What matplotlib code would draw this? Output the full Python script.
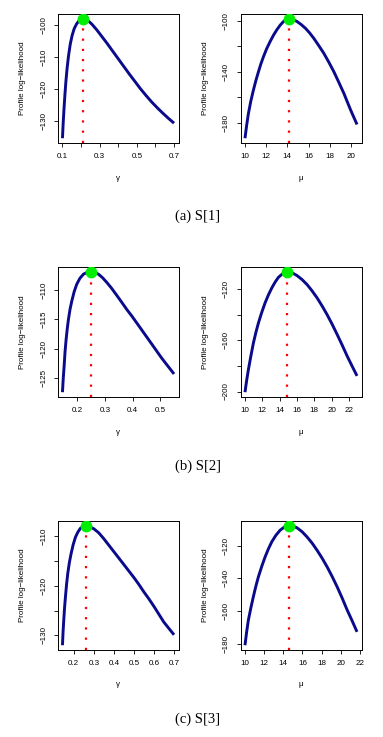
import matplotlib
matplotlib.use("Agg")
import matplotlib.pyplot as plt

# ---------------- data ----------------
# Panel (a) S[1]: gamma profile
g1_x = [0.100, 0.104, 0.108, 0.113, 0.118, 0.125, 0.133, 0.142, 0.152, 0.163,
        0.176, 0.190, 0.208, 0.225, 0.240, 0.260, 0.285, 0.310, 0.339, 0.370,
        0.400, 0.430, 0.460, 0.490, 0.520, 0.550, 0.580, 0.610, 0.640, 0.670, 0.700]
g1_y = [-135.4, -130.5, -126.5, -122.0, -118.0, -113.5, -109.5, -106.0, -103.3,
        -101.2, -99.7, -98.6, -98.1, -98.3, -98.8, -99.9, -101.6, -103.5, -105.7,
        -108.2, -110.6, -113.0, -115.4, -117.7, -120.0, -122.1, -124.1, -125.9,
        -127.6, -129.2, -130.7]
g1_peak = (0.208, -98.1)
# Panel (a) S[1]: mu profile
m1_x = [10.0, 10.15, 10.32, 10.55, 10.79, 11.03, 11.27, 11.50, 11.74, 12.05,
        12.37, 12.68, 13.0, 13.32, 13.64, 13.9, 14.18, 14.5, 14.9, 15.3, 15.7,
        16.1, 16.49, 16.95, 17.44, 17.9, 18.39, 18.85, 19.34, 19.65, 19.97,
        20.27, 20.57]
m1_y = [-192.1, -182.5, -172.9, -163.0, -154.5, -146.8, -140.0, -133.8, -128.2,
        -121.8, -116.3, -111.4, -107.1, -103.4, -100.5, -99.1, -98.4, -98.9,
        -100.5, -102.9, -105.8, -109.5, -113.7, -119.3, -125.5, -132.3, -140.0,
        -148.2, -157.1, -163.5, -170.0, -175.7, -181.3]
m1_peak = (14.18, -98.4)

# Panel (b) S[2]
g2_x = [0.1456, 0.1485, 0.1516, 0.155, 0.1589, 0.163, 0.1673, 0.173, 0.1794,
        0.188, 0.1976, 0.209, 0.2218, 0.235, 0.2496, 0.263, 0.2762, 0.291,
        0.3065, 0.324, 0.3427, 0.361, 0.379, 0.397, 0.4153, 0.4335, 0.4516,
        0.4698, 0.4879, 0.506, 0.5242, 0.5375, 0.5508]
g2_y = [-127.4, -125.0, -123.0, -120.5, -118.4, -116.6, -115.0, -113.3, -111.9,
        -110.3, -109.0, -108.0, -107.3, -107.0, -106.9, -107.0, -107.3, -107.9,
        -108.7, -109.7, -110.9, -112.1, -113.3, -114.4, -115.6, -116.8, -118.0,
        -119.2, -120.4, -121.6, -122.7, -123.5, -124.3]
g2_peak = (0.2496, -106.9)
m2_x = [10.0, 10.19, 10.39, 10.68, 10.97, 11.26, 11.55, 11.93, 12.32, 12.71,
        13.1, 13.48, 13.87, 14.38, 14.88, 15.45, 16.0, 16.58, 17.16, 17.74,
        18.32, 18.9, 19.48, 20.07, 20.65, 21.23, 21.81, 22.37, 22.93]
m2_y = [-200.5, -191.5, -183.1, -172.3, -162.2, -153.9, -146.6, -138.4, -130.9,
        -124.6, -119.2, -114.7, -110.9, -108.0, -106.7, -107.5, -109.6, -112.7,
        -116.6, -121.5, -127.0, -133.3, -140.1, -147.7, -155.7, -164.0, -172.6,
        -180.3, -187.8]
m2_peak = (14.88, -106.7)

# Panel (c) S[3]
g3_x = [0.1435, 0.1465, 0.150, 0.154, 0.1585, 0.164, 0.170, 0.178, 0.1867,
        0.197, 0.2083, 0.220, 0.2332, 0.248, 0.2631, 0.280, 0.2997, 0.324,
        0.3495, 0.3744, 0.3993, 0.4243, 0.4492, 0.4741, 0.499, 0.5239, 0.5488,
        0.5737, 0.5987, 0.6236, 0.6485, 0.674, 0.700]
g3_y = [-132.0, -129.3, -126.9, -124.4, -122.2, -119.7, -117.5, -115.3, -113.5,
        -111.7, -110.2, -109.2, -108.4, -108.0, -107.9, -108.1, -108.5, -109.3,
        -110.5, -111.8, -113.1, -114.4, -115.7, -117.0, -118.3, -119.7, -121.2,
        -122.6, -124.1, -125.7, -127.3, -128.6, -129.9]
g3_peak = (0.2631, -107.9)
m3_x = [10.0, 10.17, 10.35, 10.61, 10.87, 11.13, 11.4, 11.75, 12.1, 12.45,
        12.8, 13.23, 13.67, 14.1, 14.55, 15.0, 15.42, 15.95, 16.47, 17.0,
        17.52, 18.05, 18.57, 19.1, 19.62, 20.15, 20.67, 21.18, 21.69]
m3_y = [-181.0, -173.0, -165.7, -158.2, -151.3, -144.9, -139.0, -132.6, -126.8,
        -121.8, -117.5, -113.5, -110.4, -108.5, -107.7, -107.9, -108.9, -111.3,
        -114.5, -118.3, -122.7, -127.6, -132.9, -138.9, -145.2, -152.2, -159.5,
        -166.0, -172.8]
m3_peak = (14.55, -107.7)

# ticks and labels
g1_xticks = [0.1, 0.2, 0.3, 0.4, 0.5, 0.6, 0.7]
g1_xlabels = ["0.1", "", "0.3", "", "0.5", "", "0.7"]
g1_yticks = [-100, -110, -120, -130]
g1_ylabels = ["\u2212100", "\u2212110", "\u2212120", "\u2212130"]
m1_xticks = [10, 12, 14, 16, 18, 20]
m1_xlabels = ["10", "12", "14", "16", "18", "20"]
m1_yticks = [-100, -120, -140, -160, -180]
m1_ylabels = ["\u2212100", "", "\u2212140", "", "\u2212180"]

g2_xticks = [0.2, 0.3, 0.4, 0.5]
g2_xlabels = ["0.2", "0.3", "0.4", "0.5"]
g2_yticks = [-110, -115, -120, -125]
g2_ylabels = ["\u2212110", "\u2212115", "\u2212120", "\u2212125"]
m2_xticks = [10, 12, 14, 16, 18, 20, 22]
m2_xlabels = ["10", "12", "14", "16", "18", "20", "22"]
m2_yticks = [-120, -140, -160, -180, -200]
m2_ylabels = ["\u2212120", "", "\u2212160", "", "\u2212200"]

g3_xticks = [0.2, 0.3, 0.4, 0.5, 0.6, 0.7]
g3_xlabels = ["0.2", "0.3", "0.4", "0.5", "0.6", "0.7"]
g3_yticks = [-110, -115, -120, -125, -130]
g3_ylabels = ["\u2212110", "", "\u2212120", "", "\u2212130"]
m3_xticks = [10, 12, 14, 16, 18, 20, 22]
m3_xlabels = ["10", "12", "14", "16", "18", "20", "22"]
m3_yticks = [-120, -140, -160, -180]
m3_ylabels = ["\u2212120", "\u2212140", "\u2212160", "\u2212180"]

captions = ["(a) S[1]", "(b) S[2]", "(c) S[3]"]
ylabel = "Profile log\u2212likelihood"
xlab_gamma = "\u03b3"
xlab_mu = "\u03bc"

# ---------------- layout ----------------
W, H = 383, 737
fig = plt.figure(figsize=(W / 100, H / 100), dpi=100)
fig.patch.set_facecolor("white")

SANS = ["Liberation Sans", "DejaVu Sans"]
SERIF = ["Liberation Serif", "DejaVu Serif"]
FS = 5.8


def px_axes(left, top, right, bottom):
    return fig.add_axes([left / W, 1 - bottom / H, (right - left) / W, (bottom - top) / H])


def panel(ax, x, y, peak, xticks, xlabels, yticks, ylabels, xlab):
    ax.plot(x, y, color="#0a0a8c", lw=2.1, solid_joinstyle="round",
            solid_capstyle="butt", zorder=3)
    xr = max(x) - min(x)
    yr = max(y) - min(y)
    ax.set_xlim(min(x) - 0.04 * xr, max(x) + 0.04 * xr)
    ylo = min(y) - 0.04 * yr
    ax.set_ylim(ylo, max(y) + 0.04 * yr)
    ax.plot([peak[0], peak[0]], [ylo, peak[1]], color="red", lw=1.6,
            linestyle=(0, (1, 3.6)), zorder=2)
    ax.plot([peak[0]], [peak[1]], "o", color="#00ee00", ms=7.5, mec="#00ee00", zorder=4)
    ax.set_xticks(xticks)
    ax.set_xticklabels(xlabels, fontsize=FS, family=SANS)
    ax.set_yticks(yticks)
    ax.set_yticklabels(ylabels, fontsize=FS, family=SANS, rotation=90, va="center")
    ax.tick_params(direction="out", length=3, width=0.6, pad=4.5, color="black")
    for s in ax.spines.values():
        s.set_linewidth(0.7)
        s.set_color("black")
    ax.text(-35 / 120, 0.5, ylabel, transform=ax.transAxes, rotation=90,
            ha="center", va="center", fontsize=FS, family=SANS)
    ax.text(0.5, -35 / 129, xlab, transform=ax.transAxes, ha="center",
            va="center", fontsize=FS, family=SANS)


rows = [
    (14, 143, (g1_x, g1_y, g1_peak, g1_xticks, g1_xlabels, g1_yticks, g1_ylabels),
     (m1_x, m1_y, m1_peak, m1_xticks, m1_xlabels, m1_yticks, m1_ylabels), 216),
    (267, 397, (g2_x, g2_y, g2_peak, g2_xticks, g2_xlabels, g2_yticks, g2_ylabels),
     (m2_x, m2_y, m2_peak, m2_xticks, m2_xlabels, m2_yticks, m2_ylabels), 466),
    (521, 650, (g3_x, g3_y, g3_peak, g3_xticks, g3_xlabels, g3_yticks, g3_ylabels),
     (m3_x, m3_y, m3_peak, m3_xticks, m3_xlabels, m3_yticks, m3_ylabels), 719),
]

for i, (top, bot, gpar, mpar, cap_y) in enumerate(rows):
    axg = px_axes(58, top, 178.5, bot)
    panel(axg, *gpar, xlab_gamma)
    axm = px_axes(240.5, top, 361.5, bot)
    panel(axm, *mpar, xlab_mu)
    fig.text(198 / W, 1 - cap_y / H, captions[i], ha="center", va="center",
             fontsize=10.5, family=SERIF)

fig.savefig("out.png", dpi=100, facecolor="white")
